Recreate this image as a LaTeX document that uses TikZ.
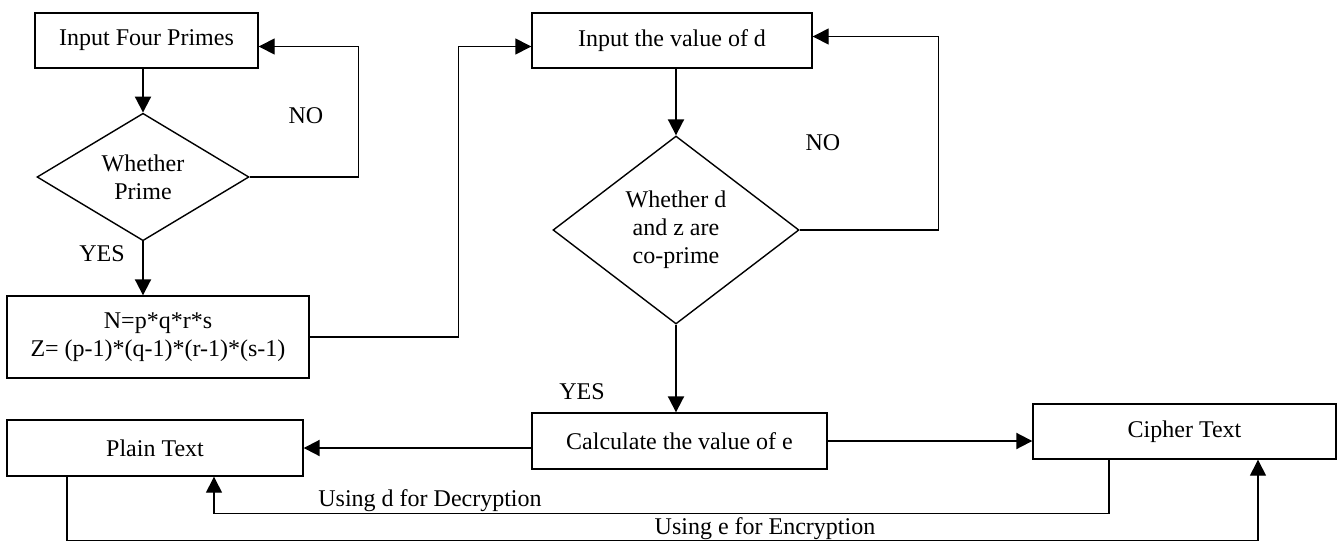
\documentclass[tikz,border=0pt]{standalone}
\usepackage{fontspec}
\setmainfont{Liberation Serif}
\usetikzlibrary{shapes.geometric,arrows.meta}
\begin{document}
\begin{tikzpicture}[
  x = 0.5pt, y = -0.5pt,
  box/.style = {
    shape = rectangle,
    draw,
    line width = 0.7pt,
    inner sep = 0pt,
    align = center,
  },
  decision/.style = {
    shape = diamond,
    draw,
    line width = 0.7pt,
    inner sep = 0pt,
    align = center,
  },
  arr/.style = {
    -{Triangle[length = 8pt, width = 8pt]},
    line width = 1pt
  },
  every node/.style = {
    font = \fontsize{12}{14}\selectfont
  }
]
  \useasboundingbox (0, 0) rectangle (1341, 542);

  \draw node[box, minimum width = 111.5pt, minimum height = 27.5pt] (primes) at (146.5, 40.5) {Input Four Primes};
  \draw node[decision, minimum width = 106pt, minimum height = 60.5pt] (isprime) at (143, 177) {Whether\\Prime};
  \draw node[box, minimum width = 151pt, minimum height = 41pt] (nz) at (158, 337) {N=p*q*r*s\\Z= (p-1)*(q-1)*(r-1)*(s-1)};

  \draw node[box, minimum width = 140pt, minimum height = 27.5pt] (dval) at (672, 40.5) {Input the value of d};
  \draw node[decision, minimum width = 123pt, minimum height = 94pt] (coprime) at (676, 230) {Whether d\\and z are\\co-prime};
  \draw node[box, minimum width = 147.5pt, minimum height = 28pt] (calc) at (679.5, 441) {Calculate the value of e};

  \draw node[box, minimum width = 148pt, minimum height = 28pt] (plain) at (155, 448) {Plain Text};
  \draw node[box, minimum width = 151.5pt, minimum height = 27.5pt] (cipher) at (1184.5, 431.5) {Cipher Text};

  \draw node (no1) at (306, 116) {NO};
  \draw node (yes1) at (102, 254) {YES};
  \draw node (no2) at (823, 143) {NO};
  \draw node (yes2) at (582, 392) {YES};
  \draw node (declbl) at (430, 501) {Using d for Decryption};
  \draw node (enclbl) at (765, 529) {Using e for Encryption};

  \draw[arr] (isprime.north |- primes.south) -- (isprime.north);
  \draw[arr, line width = 0.7pt] (isprime.east) -- ++(109, 0) |- ([yshift = -3pt]primes.east);
  \draw[arr] (isprime.south) -- (isprime.south |- nz.north);
  \draw[arr, line width = 0.7pt] (nz.east) -- ++(149, 0) |- ([yshift = -3pt]dval.west);

  \draw[arr] (coprime.north |- dval.south) -- (coprime.north);
  \draw[arr, line width = 0.7pt] (coprime.east) -- ++(139, 0) |- ([yshift = 2pt]dval.east);
  \draw[arr] (coprime.south) -- (coprime.south |- calc.north);

  \draw[arr] (plain.east -| calc.west) -- (plain.east);
  \draw[arr] (calc.east) -- (calc.east -| cipher.west);
  \draw[arr, line width = 0.7pt] ([xshift = -37.75pt]cipher.south) -- ++(0, 54) -| ([xshift = 29.5pt]plain.south);
  \draw[arr, line width = 0.7pt] ([xshift = -44pt]plain.south) -- ++(0, 64) -| ([xshift = 36.75pt]cipher.south);
\end{tikzpicture}
\end{document}
